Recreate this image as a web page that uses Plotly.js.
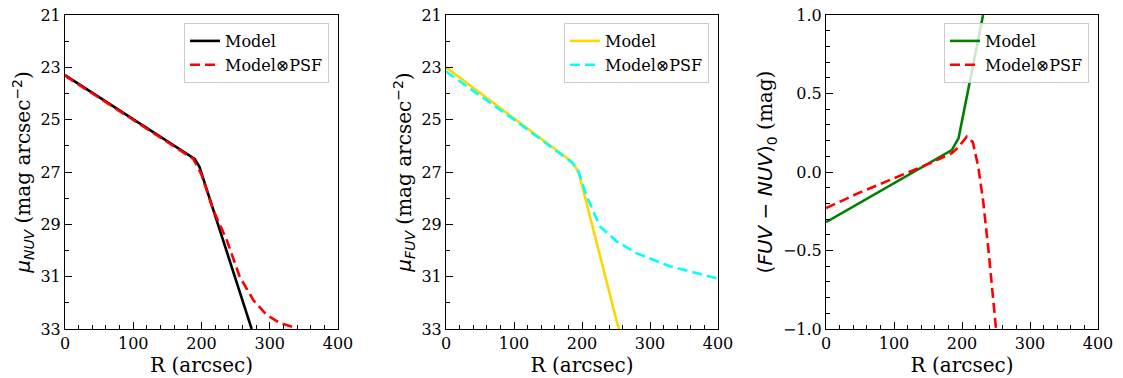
<!DOCTYPE html>
<html>
<head>
<meta charset="utf-8">
<script src="https://cdn.plot.ly/plotly-3.0.1.min.js"></script>
<style>body{margin:0;padding:0;background:#fff;} #chart{width:1123px;height:378px;}</style>
</head>
<body>
<div id="chart"></div>
<script>
// Panel 1: NUV surface brightness
const rNuvModel   = [0, 190, 197, 273.5];
const muNuvModel  = [23.3, 26.5, 26.8, 33.0];
const rNuvPsf     = [0, 100, 188, 200, 217, 237, 256, 276, 295, 315, 340];
const muNuvPsf    = [23.32, 25.0, 26.5, 27.1, 28.44, 29.6, 31.0, 31.9, 32.45, 32.77, 32.97];

// Panel 2: FUV surface brightness
const rFuvModel   = [0, 185, 195, 254];
const muFuvModel  = [23.0, 26.6, 27.0, 33.0];
const rFuvPsf     = [0, 100, 186, 195, 207, 226.5, 251, 280, 329, 378, 400];
const muFuvPsf    = [23.16, 25.0, 26.65, 27.0, 27.93, 29.08, 29.65, 30.1, 30.6, 30.92, 31.08];

// Panel 3: FUV-NUV colour
const rColModel   = [0, 185, 195, 231];
const colModel    = [-0.32, 0.14, 0.216, 1.0];
const rColPsf     = [0, 50, 100, 150, 185, 195, 207, 216, 224, 231, 239, 246, 250.5];
const colPsf      = [-0.23, -0.13, -0.04, 0.05, 0.12, 0.16, 0.225, 0.19, 0.03, -0.18, -0.5, -0.81, -1.02];

const legendNames = ['Model', 'Model⊗PSF'];
const xTicks = [0, 100, 200, 300, 400];
const muTicks = [21, 23, 25, 27, 29, 31, 33];
const colTicks = [-1.0, -0.5, 0.0, 0.5, 1.0];
const colTickText = ['\u22121.0', '\u22120.5', '0.0', '0.5', '1.0'];

const W = 1123, H = 378;
const yDom = [(H - 329) / H, (H - 15) / H];
const doms = [[65 / W, 338 / W], [446 / W, 718 / W], [826 / W, 1098 / W]];

const serif = 'DejaVu Serif';
const mathSpan = s => '<span style="font-family:DejaVu Sans">' + s + '</span>';

function tr(x, y, name, color, dashed, xa, ya, leg) {
  return {
    x: x, y: y, name: name, type: 'scatter', mode: 'lines',
    line: {color: color, width: 2.6, dash: dashed ? '10px,5px' : 'solid'},
    xaxis: xa, yaxis: ya, legend: leg, hoverinfo: 'skip'
  };
}

const data = [
  tr(rNuvModel, muNuvModel, legendNames[0], '#000000', false, 'x', 'y', 'legend'),
  tr(rNuvPsf, muNuvPsf, legendNames[1], '#ff0000', true, 'x', 'y', 'legend'),
  tr(rFuvModel, muFuvModel, legendNames[0], '#ffd700', false, 'x2', 'y2', 'legend2'),
  tr(rFuvPsf, muFuvPsf, legendNames[1], '#00ffff', true, 'x2', 'y2', 'legend2'),
  tr(rColModel, colModel, legendNames[0], '#008000', false, 'x3', 'y3', 'legend3'),
  tr(rColPsf, colPsf, legendNames[1], '#ff0000', true, 'x3', 'y3', 'legend3')
];

function xAxis(i) {
  return {
    domain: doms[i], range: [0, 400], anchor: i === 0 ? 'y' : 'y' + (i + 1),
    tickvals: xTicks, ticktext: xTicks.map(String),
    ticks: 'inside', ticklen: 7, tickwidth: 1, tickcolor: '#000',
    minor: {dtick: 20, tick0: 0, ticks: 'inside', ticklen: 4, tickwidth: 1, tickcolor: '#000', showgrid: false},
    showline: true, linecolor: '#000', linewidth: 1, mirror: true,
    showgrid: false, zeroline: false,
    tickfont: {family: serif, size: 16, color: '#000'},
    title: {text: 'R (arcsec)', font: {family: serif, size: 20, color: '#000'}, standoff: 2},
    automargin: false
  };
}

function yAxis(i, range, tickvals, ticktext, minorDtick, title, standoff) {
  return {
    domain: yDom, range: range, anchor: i === 0 ? 'x' : 'x' + (i + 1),
    tickvals: tickvals, ticktext: ticktext,
    ticks: 'inside', ticklen: 7, tickwidth: 1, tickcolor: '#000',
    minor: {dtick: minorDtick, tick0: 0, ticks: 'inside', ticklen: 4, tickwidth: 1, tickcolor: '#000', showgrid: false},
    showline: true, linecolor: '#000', linewidth: 1, mirror: true,
    showgrid: false, zeroline: false,
    tickfont: {family: serif, size: 16, color: '#000'},
    title: {text: title, font: {family: serif, size: 20, color: '#000'}, standoff: standoff},
    automargin: false
  };
}

function legend(i) {
  return {
    x: doms[i][1] - 9 / W, xanchor: 'right', xref: 'paper',
    y: yDom[1] - 8 / H, yanchor: 'top', yref: 'paper',
    bgcolor: 'rgba(255,255,255,0.8)', bordercolor: '#cccccc', borderwidth: 1,
    font: {family: serif, size: 16, color: '#000'},
    tracegroupgap: 0, itemwidth: 30
  };
}

const layout = {
  width: W, height: H,
  margin: {l: 0, r: 0, t: 0, b: 0},
  font: {family: serif, size: 16, color: '#000'},
  paper_bgcolor: '#fff', plot_bgcolor: '#fff',
  showlegend: true,
  xaxis: xAxis(0), xaxis2: xAxis(1), xaxis3: xAxis(2),
  yaxis: yAxis(0, [33, 21], muTicks, muTicks.map(String), 1,
    mathSpan('<i>μ</i><sub><i>NUV</i></sub>') + ' (mag arcsec' + mathSpan('<sup>\u22122</sup>') + ')', 4),
  yaxis2: yAxis(1, [33, 21], muTicks, muTicks.map(String), 1,
    mathSpan('<i>μ</i><sub><i>FUV</i></sub>') + ' (mag arcsec' + mathSpan('<sup>\u22122</sup>') + ')', 4),
  yaxis3: yAxis(2, [-1, 1], colTicks, colTickText, 0.1,
    mathSpan('(<i>FUV</i> \u2212 <i>NUV</i>)<sub>0</sub>') + ' (mag)', 4),
  legend: legend(0), legend2: legend(1), legend3: legend(2)
};

Plotly.newPlot('chart', data, layout, {staticPlot: true, displayModeBar: false});
</script>
</body>
</html>
